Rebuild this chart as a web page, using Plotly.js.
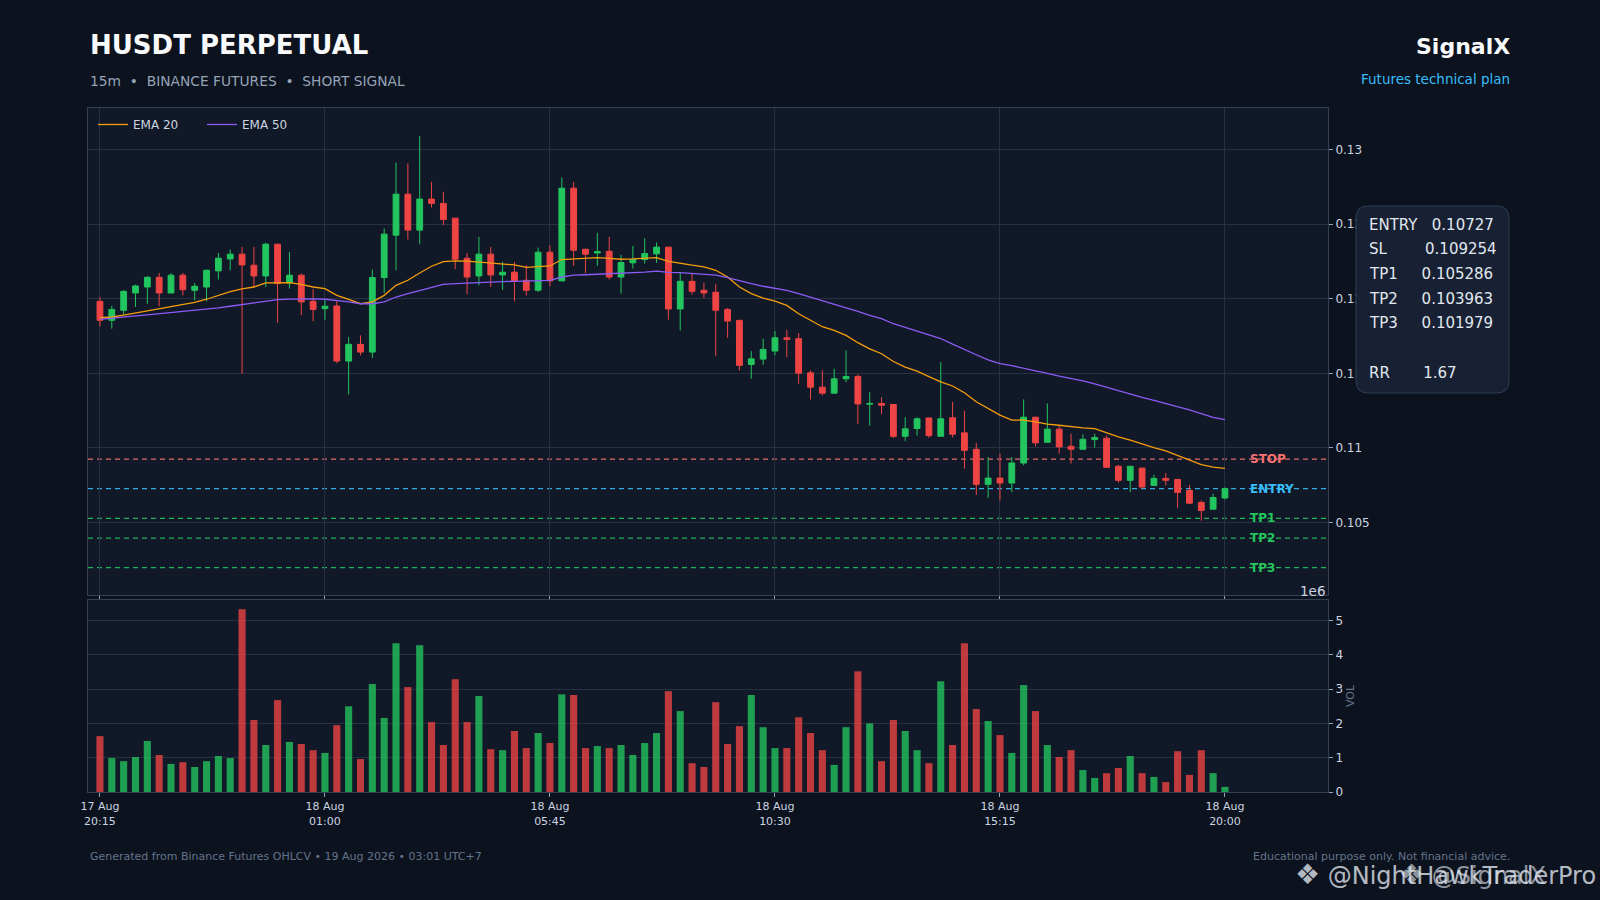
<!DOCTYPE html>
<html>
<head>
<meta charset="utf-8">
<title>HUSDT PERPETUAL</title>
<script src="https://cdn.plot.ly/plotly-3.0.1.min.js"></script>
<style>
  html, body { margin: 0; padding: 0; background: #0c121e; }
  #chart { width: 1600px; height: 900px; }
</style>
</head>
<body>
<div id="chart"></div>
<script>
// 15m candles, 17 Aug 20:15 -> 18 Aug 20:00
var opens = [
  0.11982, 0.11855, 0.11922, 0.12038, 0.12078, 0.12143, 0.12038, 0.12157, 0.12056, 0.12078,
  0.12186, 0.12266, 0.12298, 0.12224, 0.12152, 0.12365, 0.12105, 0.12157, 0.11982, 0.11933,
  0.11951, 0.11582, 0.11694, 0.11642, 0.12141, 0.12425, 0.12700, 0.12459, 0.12667, 0.12638,
  0.12539, 0.12271, 0.12152, 0.12298, 0.12159, 0.12177, 0.12123, 0.12056, 0.12311, 0.12119,
  0.12740, 0.12331, 0.12306, 0.12317, 0.12145, 0.12240, 0.12262, 0.12300, 0.12345, 0.11931,
  0.12116, 0.12056, 0.12043, 0.11928, 0.11855, 0.11559, 0.11595, 0.11649, 0.11738, 0.11732,
  0.11503, 0.11407, 0.11367, 0.11463, 0.11479, 0.11293, 0.11298, 0.11291, 0.11078, 0.11130,
  0.11201, 0.11078, 0.11202, 0.11101, 0.10991, 0.10756, 0.10798, 0.10765, 0.10899, 0.11206,
  0.11038, 0.11126, 0.11011, 0.10991, 0.11056, 0.11065, 0.10877, 0.10783, 0.10865, 0.10749,
  0.10796, 0.10789, 0.10715, 0.10635, 0.10590, 0.10665
];
var highs = [
  0.12011, 0.11951, 0.12056, 0.12094, 0.12150, 0.12172, 0.12172, 0.12172, 0.12105, 0.12195,
  0.12306, 0.12329, 0.12347, 0.12347, 0.12374, 0.12365, 0.12313, 0.12168, 0.12063, 0.11989,
  0.11989, 0.11743, 0.11754, 0.12195, 0.12470, 0.12911, 0.12906, 0.13089, 0.12783, 0.12716,
  0.12539, 0.12306, 0.12414, 0.12347, 0.12246, 0.12246, 0.12224, 0.12342, 0.12358, 0.12812,
  0.12783, 0.12331, 0.12441, 0.12414, 0.12293, 0.12353, 0.12403, 0.12376, 0.12345, 0.12172,
  0.12168, 0.12107, 0.12100, 0.11937, 0.11855, 0.11649, 0.11732, 0.11783, 0.11792, 0.11770,
  0.11519, 0.11519, 0.11530, 0.11653, 0.11492, 0.11374, 0.11340, 0.11291, 0.11206, 0.11206,
  0.11201, 0.11575, 0.11309, 0.11249, 0.11034, 0.10939, 0.10962, 0.10939, 0.11325, 0.11206,
  0.11298, 0.11152, 0.11096, 0.11090, 0.11096, 0.11083, 0.10888, 0.10877, 0.10865, 0.10821,
  0.10832, 0.10789, 0.10753, 0.10648, 0.10693, 0.10735
];
var lows = [
  0.11814, 0.11799, 0.11893, 0.11944, 0.11966, 0.11949, 0.12038, 0.12022, 0.11989, 0.11982,
  0.12128, 0.12190, 0.11497, 0.12078, 0.12078, 0.11839, 0.12067, 0.11888, 0.11848, 0.11859,
  0.11568, 0.11358, 0.11620, 0.11604, 0.12038, 0.12190, 0.12396, 0.12365, 0.12611, 0.12492,
  0.12197, 0.12029, 0.12089, 0.12078, 0.12060, 0.11982, 0.12022, 0.12045, 0.12083, 0.12119,
  0.12219, 0.12172, 0.12219, 0.12128, 0.12034, 0.12201, 0.12235, 0.12240, 0.11859, 0.11787,
  0.12027, 0.12004, 0.11615, 0.11738, 0.11519, 0.11463, 0.11557, 0.11620, 0.11608, 0.11430,
  0.11324, 0.11351, 0.11362, 0.11441, 0.11161, 0.11150, 0.11228, 0.11067, 0.11045, 0.11083,
  0.11067, 0.11078, 0.11070, 0.10861, 0.10686, 0.10666, 0.10648, 0.10704, 0.10883, 0.11011,
  0.11038, 0.10962, 0.10895, 0.10991, 0.11002, 0.10870, 0.10767, 0.10704, 0.10726, 0.10749,
  0.10749, 0.10599, 0.10626, 0.10513, 0.10590, 0.10655
];
var closes = [
  0.11855, 0.11928, 0.12049, 0.12085, 0.12143, 0.12038, 0.12157, 0.12060, 0.12083, 0.12190,
  0.12271, 0.12298, 0.12226, 0.12152, 0.12365, 0.12101, 0.12157, 0.11978, 0.11928, 0.11949,
  0.11582, 0.11694, 0.11642, 0.12141, 0.12432, 0.12700, 0.12459, 0.12667, 0.12638, 0.12530,
  0.12264, 0.12145, 0.12298, 0.12159, 0.12177, 0.12119, 0.12056, 0.12311, 0.12119, 0.12740,
  0.12324, 0.12298, 0.12315, 0.12145, 0.12242, 0.12262, 0.12302, 0.12345, 0.11931, 0.12116,
  0.12049, 0.12038, 0.11922, 0.11850, 0.11553, 0.11597, 0.11660, 0.11738, 0.11727, 0.11501,
  0.11407, 0.11367, 0.11463, 0.11479, 0.11295, 0.11298, 0.11286, 0.11078, 0.11128, 0.11195,
  0.11083, 0.11195, 0.11092, 0.10984, 0.10756, 0.10798, 0.10765, 0.10899, 0.11206, 0.11034,
  0.11126, 0.11007, 0.10991, 0.11058, 0.11070, 0.10870, 0.10783, 0.10877, 0.10738, 0.10796,
  0.10783, 0.10702, 0.10630, 0.10581, 0.10668, 0.10728
];
// volume in millions (axis offset 1e6)
var volumes = [
  1.63, 0.99, 0.90, 1.02, 1.49, 1.08, 0.82, 0.87, 0.73, 0.90,
  1.05, 0.99, 5.33, 2.10, 1.37, 2.68, 1.46, 1.40, 1.22, 1.14,
  1.95, 2.50, 0.96, 3.15, 2.16, 4.34, 3.06, 4.28, 2.04, 1.37,
  3.29, 2.04, 2.80, 1.25, 1.22, 1.78, 1.28, 1.72, 1.43, 2.85,
  2.83, 1.28, 1.34, 1.28, 1.37, 1.08, 1.43, 1.72, 2.94, 2.36,
  0.84, 0.73, 2.62, 1.40, 1.92, 2.83, 1.89, 1.28, 1.28, 2.18,
  1.72, 1.22, 0.79, 1.89, 3.52, 2.00, 0.90, 2.10, 1.78, 1.22,
  0.84, 3.23, 1.37, 4.34, 2.42, 2.07, 1.66, 1.14, 3.12, 2.36,
  1.37, 1.02, 1.22, 0.64, 0.41, 0.55, 0.70, 1.05, 0.55, 0.44,
  0.29, 1.19, 0.50, 1.22, 0.55, 0.15
];
var ema20 = [
  0.11872, 0.11877, 0.11890, 0.11904, 0.11918, 0.11933, 0.11945, 0.11962, 0.11975, 0.11996,
  0.12022, 0.12047, 0.12065, 0.12078, 0.12105, 0.12108, 0.12107, 0.12096, 0.12078, 0.12067,
  0.12022, 0.11995, 0.11966, 0.11978, 0.12022, 0.12089, 0.12123, 0.12172, 0.12217, 0.12248,
  0.12253, 0.12252, 0.12246, 0.12242, 0.12235, 0.12226, 0.12210, 0.12213, 0.12219, 0.12262,
  0.12268, 0.12272, 0.12275, 0.12270, 0.12264, 0.12266, 0.12268, 0.12275, 0.12250, 0.12235,
  0.12224, 0.12213, 0.12190, 0.12145, 0.12078, 0.12034, 0.12004, 0.11984, 0.11955, 0.11899,
  0.11855, 0.11812, 0.11787, 0.11754, 0.11705, 0.11664, 0.11631, 0.11579, 0.11541, 0.11515,
  0.11478, 0.11443, 0.11415, 0.11370, 0.11309, 0.11265, 0.11220, 0.11186, 0.11186, 0.11175,
  0.11159, 0.11152, 0.11141, 0.11135, 0.11130, 0.11101, 0.11074, 0.11052, 0.11025, 0.11002,
  0.10980, 0.10951, 0.10917, 0.10888, 0.10872, 0.10863
];
var ema50 = [
  0.11861, 0.11870, 0.11877, 0.11884, 0.11891, 0.11899, 0.11905, 0.11911, 0.11918, 0.11926,
  0.11938, 0.11949, 0.11960, 0.11971, 0.11982, 0.11993, 0.11997, 0.12000, 0.11998, 0.11996,
  0.11989, 0.11978, 0.11966, 0.11966, 0.11978, 0.12011, 0.12034, 0.12056, 0.12078, 0.12096,
  0.12101, 0.12105, 0.12108, 0.12112, 0.12114, 0.12116, 0.12118, 0.12119, 0.12123, 0.12145,
  0.12157, 0.12160, 0.12163, 0.12166, 0.12168, 0.12172, 0.12177, 0.12184, 0.12176, 0.12174,
  0.12170, 0.12166, 0.12157, 0.12141, 0.12119, 0.12101, 0.12083, 0.12072, 0.12056, 0.12034,
  0.12011, 0.11984, 0.11962, 0.11940, 0.11915, 0.11888, 0.11866, 0.11832, 0.11805, 0.11783,
  0.11758, 0.11733, 0.11695, 0.11658, 0.11624, 0.11590, 0.11565, 0.11551, 0.11535, 0.11519,
  0.11500, 0.11481, 0.11466, 0.11450, 0.11429, 0.11406, 0.11382, 0.11360, 0.11339, 0.11319,
  0.11299, 0.11277, 0.11255, 0.11230, 0.11205, 0.11190
];

var priceTicks = [0.105, 0.11, 0.115, 0.12, 0.125, 0.13];
var priceTickText = ['0.105', '0.11', '0.115', '0.12', '0.125', '0.13'];
var volTicks = [0, 1, 2, 3, 4, 5];
var timeTickIdx = [0, 19, 38, 57, 76, 95];
var timeTickText = ['17 Aug<br>20:15', '18 Aug<br>01:00', '18 Aug<br>05:45',
                    '18 Aug<br>10:30', '18 Aug<br>15:15', '18 Aug<br>20:00'];

var levelNames = ['STOP', 'ENTRY', 'TP1', 'TP2', 'TP3'];
var levelValues = [0.109254, 0.10727, 0.105286, 0.103963, 0.101979];
var levelColors = ['#f87171', '#38bdf8', '#22c55e', '#22c55e', '#22c55e'];

var infoLabels = ['ENTRY', 'SL', 'TP1', 'TP2', 'TP3', '', 'RR'];
var infoValues = ['0.10727', '0.109254', '0.105286', '0.103963', '0.101979', '', '1.67'];
var infoGaps = [3, 8, 5, 5, 5, 0, 7];

var UP = '#22c55e', DOWN = '#ef4444';
var W = 1600, H = 900;
function px(x) { return x / W; }
function py(y) { return 1 - y / H; }

// times on the 15m grid
var t0 = Date.UTC(2026, 7, 17, 20, 15);
function fmt(ms) {
    var d = new Date(ms);
    function p2(n) { return (n < 10 ? '0' : '') + n; }
    return d.getUTCFullYear() + '-' + p2(d.getUTCMonth() + 1) + '-' + p2(d.getUTCDate()) +
        ' ' + p2(d.getUTCHours()) + ':' + p2(d.getUTCMinutes()) + ':' + p2(d.getUTCSeconds());
}
var step = 15 * 60 * 1000;
var times = [];
for (var i = 0; i < closes.length; i++) times.push(fmt(t0 + i * step));
var tickTimes = timeTickIdx.map(function(k) { return times[k]; });
var xRange = [fmt(t0 - 1.01 * step), fmt(t0 + 103.7 * step)];

var volColors = closes.map(function(c, k) {
    return c >= opens[k] ? 'rgba(34,197,94,0.78)' : 'rgba(239,68,68,0.78)';
});

var data = [
    {
        type: 'candlestick', x: times, open: opens, high: highs, low: lows, close: closes,
        xaxis: 'x', yaxis: 'y', showlegend: false, hoverinfo: 'skip',
        increasing: {line: {color: UP, width: 1}, fillcolor: UP},
        decreasing: {line: {color: DOWN, width: 1}, fillcolor: DOWN}
    },
    {
        type: 'scatter', mode: 'lines', x: times, y: ema20, name: 'EMA 20',
        line: {color: '#f59e0b', width: 1.3}, xaxis: 'x', yaxis: 'y'
    },
    {
        type: 'scatter', mode: 'lines', x: times, y: ema50, name: 'EMA 50',
        line: {color: '#8b5cf6', width: 1.3}, xaxis: 'x', yaxis: 'y'
    },
    {
        type: 'bar', x: times, y: volumes, marker: {color: volColors, line: {width: 0}},
        xaxis: 'x2', yaxis: 'y2', showlegend: false, hoverinfo: 'skip'
    }
];

// level lines + labels
var shapes = [];
var annotations = [];
levelValues.forEach(function(v, k) {
    shapes.push({
        type: 'line', xref: 'paper', yref: 'y', x0: px(88), x1: px(1328), y0: v, y1: v,
        line: {color: levelColors[k], width: 1.3, dash: '5px,4px'}, layer: 'between', opacity: 0.9
    });
    annotations.push({
        xref: 'paper', yref: 'y', x: px(1248), y: v, xanchor: 'left', yanchor: 'middle',
        text: '<b>' + levelNames[k] + '</b>', showarrow: false,
        font: {family: 'DejaVu Sans', size: 12, color: levelColors[k]}
    });
});

// rounded info box
function rr(x0, y0, x1, y1, r) {
    function P(x, y) { return px(x).toFixed(5) + ',' + py(y).toFixed(5); }
    return 'M' + P(x0 + r, y0) + ' L' + P(x1 - r, y0) + ' Q' + P(x1, y0) + ' ' + P(x1, y0 + r) +
        ' L' + P(x1, y1 - r) + ' Q' + P(x1, y1) + ' ' + P(x1 - r, y1) +
        ' L' + P(x0 + r, y1) + ' Q' + P(x0, y1) + ' ' + P(x0, y1 - r) +
        ' L' + P(x0, y0 + r) + ' Q' + P(x0, y0) + ' ' + P(x0 + r, y0) + ' Z';
}
shapes.push({
    type: 'path', xref: 'paper', yref: 'paper', path: rr(1356, 206, 1509, 393, 12),
    fillcolor: '#172133', line: {color: '#2f3c52', width: 1}, layer: 'above'
});
infoLabels.forEach(function(lab, k) {
    if (!lab) return;
    annotations.push({
        xref: 'paper', yref: 'paper', x: px(1367), y: py(224.5 + 24.7 * k),
        xanchor: 'left', yanchor: 'middle', showarrow: false,
        text: lab + '\u00a0'.repeat(infoGaps[k]) + infoValues[k],
        font: {family: 'DejaVu Sans', size: 15, color: '#e2e8f0'}
    });
});

// header / footer texts
function txt(x, y, s, size, color, anchor, bold) {
    annotations.push({
        xref: 'paper', yref: 'paper', x: px(x), y: py(y), xanchor: anchor, yanchor: 'middle',
        text: bold ? '<b>' + s + '</b>' : s, showarrow: false,
        font: {family: 'DejaVu Sans', size: size, color: color}
    });
}
var logo = '<span style="font-size:28px">❖</span>';
txt(88, 45, 'HUSDT PERPETUAL', 26, '#f8fafc', 'left', true);
txt(88, 81, '15m\u00a0\u00a0•\u00a0\u00a0BINANCE FUTURES\u00a0\u00a0•\u00a0\u00a0SHORT SIGNAL', 13.8, '#94a3b8', 'left', false);
txt(1512, 47, 'SignalX', 22, '#f8fafc', 'right', true);
txt(1512, 79, 'Futures technical plan', 13.5, '#38bdf8', 'right', false);
txt(1327, 591, '1e6', 13.5, '#cbd5e1', 'right', false);
txt(88, 856, 'Generated from Binance Futures OHLCV • 19 Aug 2026 • 03:01 UTC+7', 11, '#64748b', 'left', false);
txt(1512, 856, 'Educational purpose only. Not financial advice.', 11, '#64748b', 'right', false);
txt(1293, 874, logo + '\u00a0@NightHawkTraderPro', 24, 'rgba(226,232,240,0.8)', 'left', false);
txt(1397, 874, logo + '\u00a0@SignalX', 24, 'rgba(226,232,240,0.62)', 'left', false);

var gridC = '#263142', lineC = '#334155', tickC = '#cbd5e1';

var layout = {
    width: W, height: H,
    margin: {l: 0, r: 0, t: 0, b: 0},
    paper_bgcolor: '#0c121e', plot_bgcolor: '#111827',
    font: {family: 'DejaVu Sans', color: tickC, size: 12},
    showlegend: true,
    legend: {
        orientation: 'h', x: px(93), y: py(110), xanchor: 'left', yanchor: 'top',
        bgcolor: 'rgba(0,0,0,0)', font: {size: 12, color: '#cbd5e1'},
        entrywidth: 64, entrywidthmode: 'pixels'
    },
    bargap: 0.4,
    hovermode: false,
    xaxis: {
        type: 'date', domain: [px(88), px(1328)], anchor: 'y', range: xRange,
        rangeslider: {visible: false},
        tickmode: 'array', tickvals: tickTimes, showticklabels: false,
        ticks: 'outside', ticklen: 4, tickcolor: '#94a3b8',
        showgrid: true, gridcolor: gridC, gridwidth: 1,
        showline: true, linecolor: lineC, mirror: true, zeroline: false
    },
    yaxis: {
        domain: [py(595), py(108)], anchor: 'x', side: 'right',
        range: [0.10015, 0.13277],
        tickmode: 'array', tickvals: priceTicks, ticktext: priceTickText,
        ticks: 'outside', ticklen: 4, tickcolor: '#94a3b8',
        showgrid: true, gridcolor: gridC, gridwidth: 1,
        showline: true, linecolor: lineC, mirror: true, zeroline: false,
        tickfont: {size: 12, color: tickC}
    },
    xaxis2: {
        type: 'date', domain: [px(88), px(1328)], anchor: 'y2', matches: 'x', range: xRange,
        tickmode: 'array', tickvals: tickTimes, ticktext: timeTickText,
        ticks: 'outside', ticklen: 4, tickcolor: '#94a3b8',
        showgrid: false,
        showline: true, linecolor: lineC, mirror: true, zeroline: false,
        tickfont: {size: 11, color: tickC}
    },
    yaxis2: {
        domain: [py(792), py(600)], anchor: 'x2', side: 'right',
        range: [0, 5.6],
        tickmode: 'array', tickvals: volTicks,
        ticks: 'outside', ticklen: 4, tickcolor: '#94a3b8',
        showgrid: true, gridcolor: gridC, gridwidth: 1,
        showline: true, linecolor: lineC, mirror: true, zeroline: false,
        tickfont: {size: 12, color: tickC},
        title: {text: 'VOL', font: {size: 11, color: '#64748b'}, standoff: 4}
    },
    shapes: shapes,
    annotations: annotations
};

Plotly.newPlot('chart', data, layout, {staticPlot: true, displayModeBar: false});
</script>
</body>
</html>
